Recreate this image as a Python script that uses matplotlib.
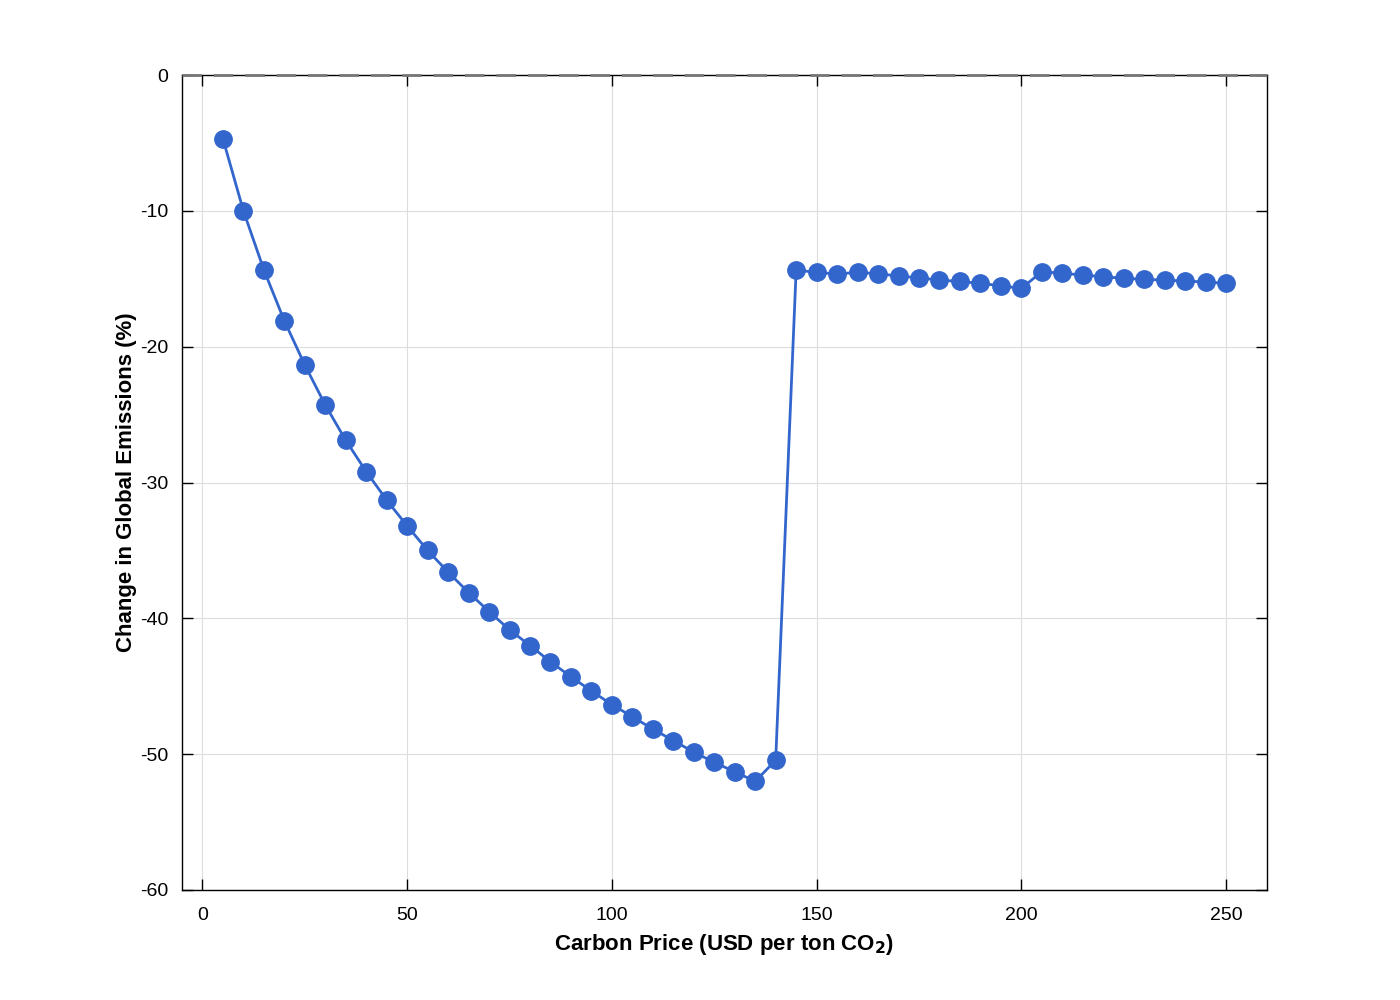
import matplotlib.pyplot as plt
import numpy as np

plt.rcParams['font.family'] = ['Liberation Sans', 'DejaVu Sans']
plt.rcParams['axes.unicode_minus'] = False
plt.rcParams['mathtext.default'] = 'bf'

# carbon price (USD per ton CO2)
price = list(range(5, 255, 5))

# change in global emissions (%)
emissions = [-4.7, -10.0, -14.35, -18.1, -21.35, -24.3, -26.9, -29.2, -31.3, -33.2,
             -35.0, -36.6, -38.1, -39.5, -40.85, -42.0, -43.2, -44.3, -45.35, -46.35,
             -47.25, -48.15, -49.0, -49.85, -50.6, -51.3, -52.0, -50.45, -14.36, -14.53,
             -14.65, -14.53, -14.63, -14.8, -14.93, -15.1, -15.2, -15.34, -15.52, -15.71,
             -14.48, -14.6, -14.72, -14.85, -14.97, -15.04, -15.1, -15.17, -15.24, -15.34]

blue = '#3366cc'

fig = plt.figure(figsize=(14, 10), dpi=100)
ax = fig.add_axes([0.13, 0.11, 0.775, 0.815])

ax.plot(price, emissions, '-o', color=blue, linewidth=2, markersize=12.5,
        markerfacecolor=blue, markeredgecolor=blue, zorder=3)
# zero reference line
ax.axhline(0, color='#777777', linestyle=(0, (7, 4.3)), linewidth=2, clip_on=False, zorder=4)

ax.set_xlim(-5, 260)
ax.set_ylim(-60, 0)
ax.set_xticks([0, 50, 100, 150, 200, 250])
ax.set_yticks([-60, -50, -40, -30, -20, -10, 0])

ax.grid(True, color='#dddddd', linewidth=0.8)
ax.set_axisbelow(True)
ax.tick_params(direction='in', length=8, width=1, top=True, right=True, labelsize=14)
ax.tick_params(axis='x', pad=12)
ax.tick_params(axis='y', pad=10)
for s in ax.spines.values():
    s.set_linewidth(1)

ax.set_xlabel('Carbon Price (USD per ton CO$_2$)', fontsize=16, fontweight='bold', labelpad=6)
ax.set_ylabel('Change in Global Emissions (%)', fontsize=16, fontweight='bold', labelpad=2)

fig.savefig('out.png', dpi=100)
